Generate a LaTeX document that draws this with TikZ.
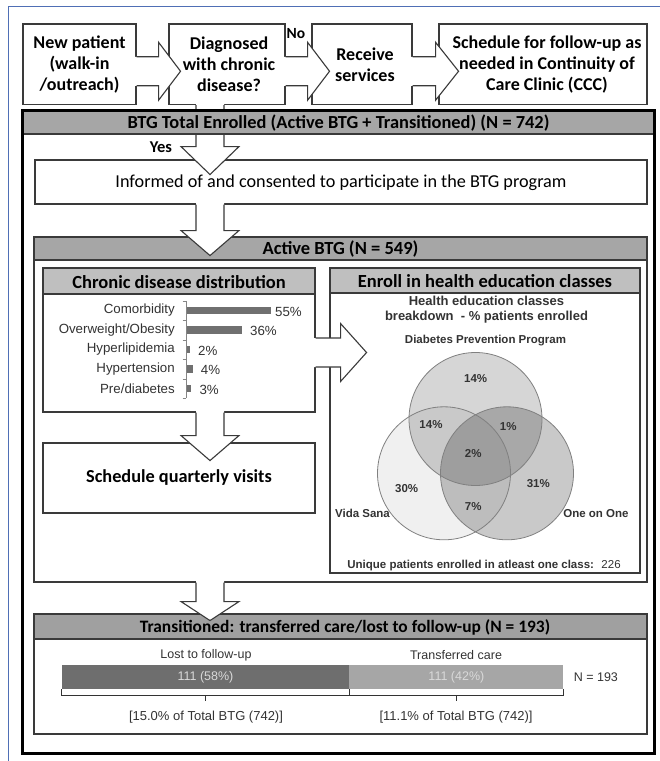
\documentclass[tikz,border=0pt]{standalone}
\usepackage{fontspec}
\setmainfont{Carlito}
\newfontfamily\arialf{Liberation Sans}
\usetikzlibrary{calc}
\definecolor{boxline}{HTML}{3A3A3A}
\definecolor{hdrA}{HTML}{A6A6A6}
\definecolor{hdrB}{HTML}{BFBFBF}
\definecolor{hdrC}{HTML}{A0A0A0}
\definecolor{chartt}{HTML}{333333}
\definecolor{barc}{HTML}{707070}
\definecolor{lostc}{HTML}{6E6E6E}
\definecolor{transc}{HTML}{A6A6A6}
\definecolor{bartxt}{HTML}{D9D9D9}
\definecolor{bluef}{HTML}{4F6FB5}
\definecolor{vennline}{HTML}{808080}
\newcommand{\rarr}[3]{%
  \path[fill=white] #1 ++(-1.5,-14.5) -- ++({#2+1.5},0) -- ++(0,-14.5) -- ++(#3,29) -- ++(-#3,29) -- ++(0,-14.5) -- ++({-#2-1.5},0) -- cycle;
  \draw[arrline] #1 ++(0,-14.5) -- ++(#2,0) -- ++(0,-14.5) -- ++(#3,29) -- ++(-#3,29) -- ++(0,-14.5) -- ++(-#2,0);}
\newcommand{\darr}[3]{%
  \path[fill=white] #1 ++(-14,-1.5) -- ++(0,{#2+1.5}) -- ++(-15,0) -- ++(29,#3) -- ++(29,-#3) -- ++(-15,0) -- ++(0,{-#2-1.5}) -- cycle;
  \draw[arrline] #1 ++(-14,0) -- ++(0,#2) -- ++(-15,0) -- ++(29,#3) -- ++(29,-#3) -- ++(-15,0) -- ++(0,-#2);}
\begin{document}
\begin{tikzpicture}[x=1pt,y=-1pt,
  arrline/.style={draw=boxline,line width=1.1pt,line join=miter},
  box/.style={draw=boxline,line width=1.1pt,fill=white,inner sep=0pt,align=center,font=\bfseries\fontsize{18}{21}\selectfont},
  boxtxt/.style={inner sep=0pt,align=center,font=\bfseries\fontsize{18}{21}\selectfont},
  plain/.style={draw=boxline,line width=1.1pt,fill=white,inner sep=0pt},
  hd/.style={draw=boxline,line width=1.1pt,inner sep=0pt},
  hdtxt/.style={inner sep=0pt,font=\bfseries\fontsize{18.5}{21}\selectfont},
  ctxt/.style={inner sep=0pt,text=chartt,font=\arialf\fontsize{13.3}{15}\selectfont},
  vtxt/.style={inner sep=0pt,text=chartt,font=\arialf\bfseries\fontsize{11.5}{13}\selectfont},
  ttxt/.style={inner sep=0pt,text=chartt,font=\arialf\fontsize{12.5}{14}\selectfont}]
\useasboundingbox (0,0) rectangle (660,761);
\fill[white] (0,0) rectangle (660,761);
% blue border
\draw[bluef,line width=1pt] (8,761) -- (8,6) -- (660,6);
\coordinate (axis) at (210,0);
% outer frame
\node[plain,draw=none,minimum width=631pt,minimum height=642pt] (total) at (338.5,432) {};
% top row
\node[box,minimum width=113pt,minimum height=80.5pt] (b1) at (79.5,64.25) {New patient\\(walk-in\\/outreach)};
\node[box,minimum width=116pt,minimum height=80.5pt] (b2) at (227,64.25) {};
\node[boxtxt] (b2t) at (229,64.25) {Diagnosed\\with chronic\\disease?};
\node[box,minimum width=100pt,minimum height=80.5pt] (b3) at (362,64.25) {};
\node[boxtxt] (b3t) at (365,64.25) {Receive\\services};
\node[box,minimum width=208pt,minimum height=80.5pt] (b4) at (543,64.25) {};
\node[boxtxt] (b4t) at (547,64.25) {Schedule for follow-up as\\needed in Continuity of\\Care Clinic (CCC)};
\rarr{($(b1.east)+(0,7)$)}{22}{22}
\rarr{($(b2.east)+(0,7)$)}{22}{22}
\rarr{($(b3.east)+(0,7)$)}{23}{23}
\node[inner sep=0pt,font=\bfseries\fontsize{15.5}{17}\selectfont] (no) at (296,34) {No};
% informed
\node[plain,minimum width=612pt,minimum height=44pt] (informed) at (341,182) {};
\node[inner sep=0pt,font=\fontsize{18.2}{21}\selectfont] (informedt) at (341,183) {Informed of and consented to participate in the BTG program};
\darr{(b2.south -| axis)}{41.5}{28}
\node[hd,fill=hdrA,minimum width=631pt,minimum height=23pt] (totalhd) at (338.5,122.5) {};
\node[hdtxt,font=\bfseries\fontsize{18.4}{21}\selectfont] (totalt) at (338.5,123) {BTG Total Enrolled (Active BTG + Transitioned) (N = 742)};
\node[inner sep=0pt,font=\bfseries\fontsize{16.5}{18}\selectfont] (yes) at (161,147) {Yes};
% active
\node[plain,minimum width=613pt,minimum height=345pt] (active) at (340.5,409.5) {};
\node[hd,fill=hdrA,minimum width=613pt,minimum height=23pt] (activehd) at (340.5,248.5) {};
\darr{(informed.south -| axis)}{26}{25}
\node[hdtxt] (activet) at (340.5,249) {Active BTG (N = 549)};
% chronic
\node[plain,minimum width=272pt,minimum height=144pt] (chronic) at (179,340) {};
\node[hd,fill=hdrB,minimum width=272pt,minimum height=26pt] (chronichd) at (179,281) {};
\node[hdtxt] (chronict) at (179,282) {Chronic disease distribution};
\draw[chartt!60,line width=0.6pt] (186,300.8) -- (186,398.3);
\foreach \t in {300.8,320.3,339.8,359.3,378.8,398.3}{\draw[chartt!60,line width=0.6pt] (182.5,\t) -- (186,\t);}
\foreach \i/\lab/\pc/\y/\lx in {1/Comorbidity/55/310.5/275,2/Overweight\slash Obesity/36/330/250,3/Hyperlipidemia/2/349.5/198,4/Hypertension/4/369/200.7,5/Pre\slash diabetes/3/388.5/199.3}{
  \node[ctxt,anchor=east] (cl\i) at (175,\y) {\lab};
  \fill[barc] (186.7,\y-3.75) rectangle ({186.7+1.53*\pc},\y+3.75);
  \node[ctxt,anchor=west] (cp\i) at (\lx,\y+1) {\pc\%};
}
% schedule
\node[plain,minimum width=272pt,minimum height=70pt,font=\bfseries\fontsize{18.3}{21}\selectfont] (schedule) at (179,478) {Schedule quarterly visits};
\darr{(chronic.south -| axis)}{23}{25}
% enroll
\node[plain,minimum width=310pt,minimum height=305pt] (enroll) at (485,420.5) {};
\node[hd,fill=hdrB,minimum width=310pt,minimum height=25pt] (enrollhd) at (485,280.5) {};
\node[hdtxt] (enrollt) at (485,281.5) {Enroll in health education classes};
\rarr{($(chronic.east)+(0,12.5)$)}{25}{26}
\node[vtxt,font=\arialf\bfseries\fontsize{13}{15}\selectfont,align=center] (vtitle) at (486.5,309.5) {Health education classes\\breakdown~ - \% patients enrolled};
\node[vtxt] (dpp) at (485.5,341) {Diabetes Prevention Program};
\fill[black,fill opacity=0.16] (475.5,419) circle[radius=66.5pt];
\fill[black,fill opacity=0.06] (444,473.3) circle[radius=66.5pt];
\fill[black,fill opacity=0.21] (507,473.3) circle[radius=66.5pt];
\draw[vennline,line width=0.8pt] (475.5,419) circle[radius=66.5pt];
\draw[vennline,line width=0.8pt] (444,473.3) circle[radius=66.5pt];
\draw[vennline,line width=0.8pt] (507,473.3) circle[radius=66.5pt];
\node[vtxt] (v1) at (475.7,378.5) {14\%};
\node[vtxt] (v2) at (431,425) {14\%};
\node[vtxt] (v3) at (508.3,426.7) {1\%};
\node[vtxt] (v4) at (473.3,453.3) {2\%};
\node[vtxt] (v5) at (406.7,488.3) {30\%};
\node[vtxt] (v6) at (538.3,483.3) {31\%};
\node[vtxt] (v7) at (473.3,506.7) {7\%};
\node[vtxt] (vida) at (362.5,513.3) {Vida Sana};
\node[vtxt] (one) at (596,513.3) {One on One};
\node[vtxt,font=\arialf\fontsize{11.5}{13}\selectfont] (uniq) at (484,566) {\textbf{Unique patients enrolled in atleast one class:}~ 226};
% transitioned
\node[plain,minimum width=613pt,minimum height=120pt] (trans) at (340.5,674) {};
\node[hd,fill=hdrC,minimum width=613pt,minimum height=25pt] (transhd) at (340.5,626.5) {};
\darr{(active.south -| axis)}{19}{19}
\node[hdtxt,font=\bfseries\fontsize{17.4}{19}\selectfont] (transt) at (345,627.5) {Transitioned: transferred care/lost to follow-up (N = 193)};
\node[ttxt] (lostl) at (206,655) {Lost to follow-up};
\node[ttxt] (transl) at (456,655) {Transferred care};
\node[fill=lostc,inner sep=0pt,minimum width=287pt,minimum height=24pt,text=bartxt,font=\arialf\fontsize{12.5}{14}\selectfont] (lostbar) at (205.5,677) {111 (58\%)};
\node[fill=transc,inner sep=0pt,minimum width=214pt,minimum height=24pt,text=bartxt,font=\arialf\fontsize{12.5}{14}\selectfont,anchor=west] (transbar) at (lostbar.east) {111 (42\%)};
\node[ttxt,anchor=west] (nn) at ($(transbar.east)+(10,0)$) {N = 193};
\draw[chartt,line width=0.8pt] (lostbar.south west) -- ++(0,6) -| (lostbar.south east);
\draw[chartt,line width=0.8pt] (lostbar.south) ++(0,6) -- ++(0,6);
\draw[chartt,line width=0.8pt] (transbar.south west) -- ++(0,6) -| (transbar.south east);
\draw[chartt,line width=0.8pt] (transbar.south) ++(0,6) -- ++(0,6);
\node[ttxt,font=\arialf\fontsize{13}{15}\selectfont] (lostp) at (206,717) {[15.0\% of Total BTG (742)]};
\node[ttxt,font=\arialf\fontsize{13}{15}\selectfont] (transp) at (456,717) {[11.1\% of Total BTG (742)]};
% outer frame border on top
\draw[black,line width=2.2pt] (total.north west) rectangle (total.south east);
\end{tikzpicture}
\end{document}
